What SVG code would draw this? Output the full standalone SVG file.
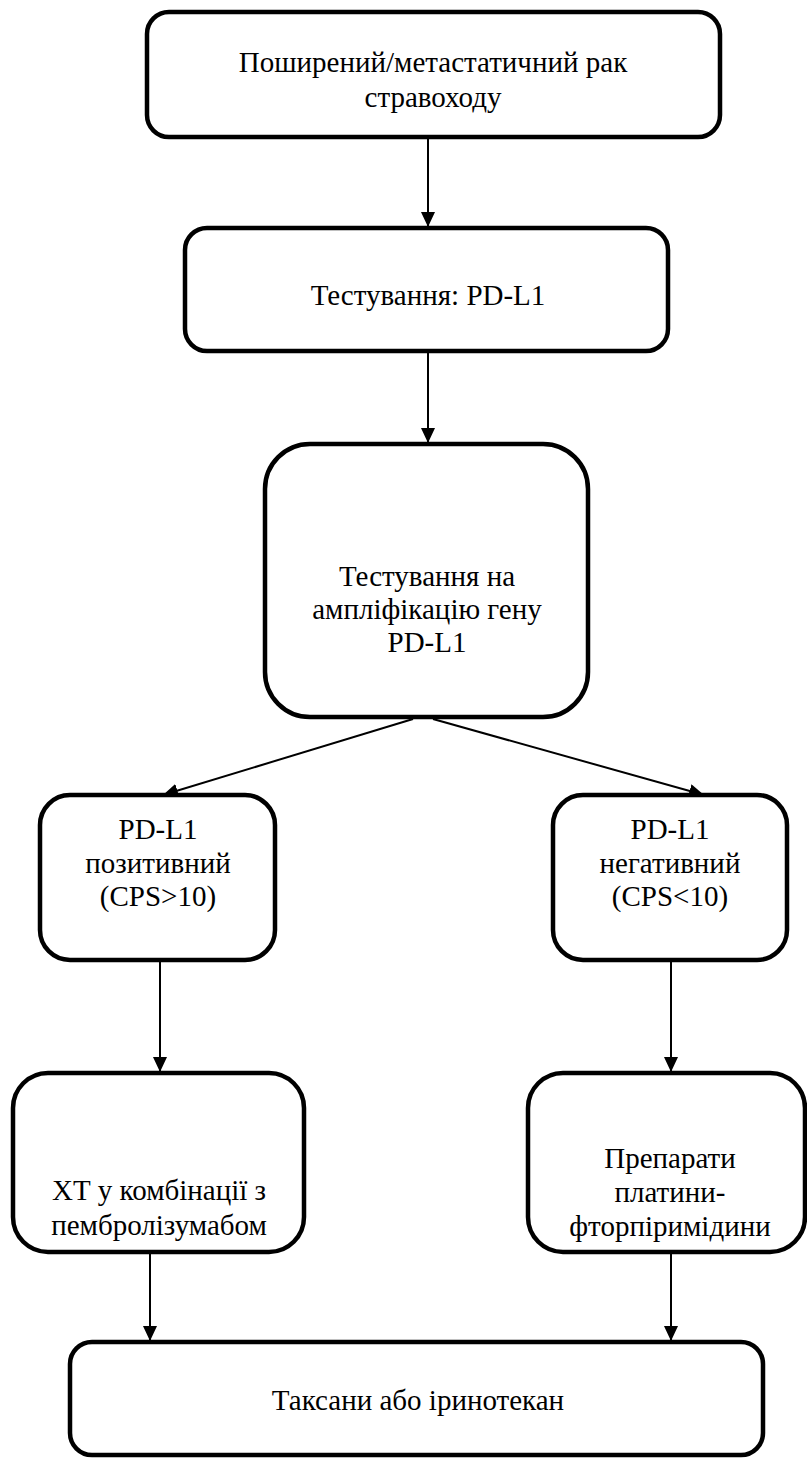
<svg xmlns="http://www.w3.org/2000/svg" width="807" height="1459" viewBox="0 0 807 1459">
<style>
.box{fill:#fff;stroke:#000;stroke-width:4.5}
.t{font-family:"Liberation Serif","Times New Roman",serif;font-size:29px;fill:#000;text-anchor:middle}
.c{stroke:#000;stroke-width:2;fill:none;marker-end:url(#ah)}
</style>
<defs>
<marker id="ah" viewBox="0 0 15 14" refX="15" refY="7" markerWidth="15" markerHeight="14" markerUnits="userSpaceOnUse" orient="auto">
<path d="M0,0 L15,7 L0,14 z" fill="#000"/>
</marker>
</defs>
<rect width="807" height="1459" fill="#fff"/>
<g id="connectors">
<line class="c" x1="428" y1="137" x2="428" y2="227"/>
<line class="c" x1="428" y1="351" x2="428" y2="443"/>
<line class="c" x1="413" y1="719" x2="163" y2="795"/>
<line class="c" x1="433" y1="719" x2="704" y2="795"/>
<line class="c" x1="160" y1="960" x2="160" y2="1072"/>
<line class="c" x1="671" y1="960" x2="671" y2="1072"/>
<line class="c" x1="150" y1="1253" x2="150" y2="1341"/>
<line class="c" x1="671" y1="1253" x2="671" y2="1341"/>
</g>
<g id="n1"><rect class="box" x="147" y="12" width="573" height="125" rx="22"/>
<text class="t" x="433" y="72">Поширений/метастатичний рак</text>
<text class="t" x="433" y="107">стравоходу</text></g>
<g id="n2"><rect class="box" x="185" y="228" width="483" height="123" rx="22"/>
<text class="t" x="428" y="305">Тестування: PD-L1</text></g>
<g id="n3"><rect class="box" x="265" y="444" width="323" height="273" rx="45"/>
<text class="t" x="427" y="586">Тестування на</text>
<text class="t" x="427" y="619">ампліфікацію гену</text>
<text class="t" x="427" y="652">PD-L1</text></g>
<g id="n4"><rect class="box" x="40" y="795" width="235" height="165" rx="30"/>
<text class="t" x="158" y="839">PD-L1</text>
<text class="t" x="158" y="873">позитивний</text>
<text class="t" x="158" y="906">(CPS&gt;10)</text></g>
<g id="n5"><rect class="box" x="553" y="795" width="234" height="165" rx="30"/>
<text class="t" x="670" y="839">PD-L1</text>
<text class="t" x="670" y="873">негативний</text>
<text class="t" x="670" y="906">(CPS&lt;10)</text></g>
<g id="n6"><rect class="box" x="13" y="1073" width="291" height="179" rx="35"/>
<text class="t" x="159" y="1200">ХТ у комбінації з</text>
<text class="t" x="159" y="1235">пембролізумабом</text></g>
<g id="n7"><rect class="box" x="528" y="1073" width="277" height="179" rx="35"/>
<text class="t" x="670" y="1168">Препарати</text>
<text class="t" x="670" y="1202">платини-</text>
<text class="t" x="670" y="1236">фторпіримідини</text></g>
<g id="n8"><rect class="box" x="70" y="1342" width="693" height="113" rx="22"/>
<text class="t" x="418" y="1410">Таксани або іринотекан</text></g>
</svg>
